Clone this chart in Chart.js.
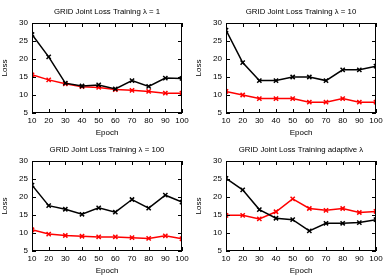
<!DOCTYPE html>
<html>
<head>
<meta charset="utf-8">
<script src="https://cdn.jsdelivr.net/npm/chart.js@4/dist/chart.umd.min.js"></script>
<style>
  body { margin: 0; background: #fff; }
  .cell { position: absolute; width: 194px; height: 138px; }
</style>
</head>
<body>
<div class="cell" style="left:0;top:0"><canvas id="c1"></canvas></div>
<div class="cell" style="left:194px;top:0"><canvas id="c2"></canvas></div>
<div class="cell" style="left:0;top:138px"><canvas id="c3"></canvas></div>
<div class="cell" style="left:194px;top:138px"><canvas id="c4"></canvas></div>
<script>
const epochs = [10, 20, 30, 40, 50, 60, 70, 80, 90, 100];

const titles = [
    'GRID Joint Loss Training \u03bb = 1',
    'GRID Joint Loss Training \u03bb = 10',
    'GRID Joint Loss Training \u03bb = 100',
    'GRID Joint Loss Training adaptive \u03bb'
];

const black1 = [26.8, 20.6, 13.3, 12.5, 12.8, 11.7, 14.0, 12.4, 14.7, 14.6];
const red1 = [15.6, 14.2, 13.1, 12.3, 12.1, 11.5, 11.3, 11.0, 10.5, 10.5];
const black2 = [28, 19, 14, 14, 15, 15, 14, 17, 17, 18];
const red2 = [11, 10, 9, 9, 9, 8, 8, 9, 8, 8];
const black3 = [23.3, 17.6, 16.6, 15.2, 17.0, 15.8, 19.3, 16.9, 20.5, 18.6];
const red3 = [10.9, 9.7, 9.3, 9.1, 8.9, 8.9, 8.7, 8.5, 9.2, 8.4];
const black4 = [25.2, 22.0, 16.5, 14.1, 13.7, 10.6, 12.7, 12.7, 12.9, 13.7];
const red4 = [14.9, 14.9, 13.9, 15.9, 19.5, 16.8, 16.3, 16.8, 15.7, 16.0];

const panels = [
    { id: 'c1', black: black1, red: red1 },
    { id: 'c2', black: black2, red: red2 },
    { id: 'c3', black: black3, red: red3 },
    { id: 'c4', black: black4, red: red4 }
];

const fontFamily = 'Liberation Sans, Arial, sans-serif';
const font = { family: fontFamily, size: 8 };

// gnuplot-like frame with inward ticks, title centred over the plot
const frame = {
    id: 'frame',
    afterDraw(chart, args, opts) {
        const { ctx, chartArea: a, scales } = chart;
        ctx.save();
        ctx.strokeStyle = '#000';
        ctx.lineWidth = 1;
        ctx.strokeRect(a.left + 0.5, a.top + 0.5, a.right - a.left - 1, a.bottom - a.top - 1);
        ctx.beginPath();
        scales.x.ticks.forEach(t => {
            const x = Math.round(scales.x.getPixelForValue(t.value)) + 0.5;
            ctx.moveTo(x, a.bottom); ctx.lineTo(x, a.bottom - 4);
            ctx.moveTo(x, a.top); ctx.lineTo(x, a.top + 4);
        });
        scales.y.ticks.forEach(t => {
            const y = Math.round(scales.y.getPixelForValue(t.value)) + 0.5;
            ctx.moveTo(a.left, y); ctx.lineTo(a.left + 4, y);
            ctx.moveTo(a.right, y); ctx.lineTo(a.right - 4, y);
        });
        ctx.stroke();
        ctx.fillStyle = '#000';
        ctx.font = '7.8px ' + fontFamily;
        ctx.textAlign = 'center';
        ctx.textBaseline = 'middle';
        ctx.fillText(opts.text, (a.left + a.right) / 2, 12);
        ctx.restore();
    }
};

panels.forEach((p, i) => {
    const line = (vals, color) => ({
        data: vals.map((v, k) => ({ x: epochs[k], y: v })),
        borderColor: color,
        backgroundColor: color,
        borderWidth: 1.5,
        pointStyle: 'crossRot',
        pointRadius: 3,
        pointBorderWidth: 1.5,
        tension: 0
    });
    new Chart(document.getElementById(p.id), {
        type: 'line',
        data: { datasets: [line(p.black, '#000'), line(p.red, '#ff0000')] },
        options: {
            responsive: true,
            maintainAspectRatio: false,
            animation: false,
            layout: { padding: { left: 0, right: 12, top: 23, bottom: 0 } },
            plugins: {
                legend: { display: false },
                tooltip: { enabled: false },
                title: { display: false },
                frame: { text: titles[i] }
            },
            scales: {
                x: {
                    type: 'linear',
                    min: 10, max: 100,
                    grid: { display: false, drawTicks: false },
                    border: { display: false },
                    ticks: { stepSize: 10, color: '#000', font, padding: 3, maxRotation: 0 },
                    title: { display: true, text: 'Epoch', color: '#000', font, padding: 0 },
                    afterFit: s => { s.height = 25; }
                },
                y: {
                    min: 5, max: 30,
                    grid: { display: false, drawTicks: false },
                    border: { display: false },
                    ticks: { stepSize: 5, color: '#000', font, padding: 4 },
                    title: { display: true, text: 'Loss', color: '#000', font, padding: 0 },
                    afterFit: s => { s.width = 32; }
                }
            }
        },
        plugins: [frame]
    });
});
</script>
</body>
</html>
